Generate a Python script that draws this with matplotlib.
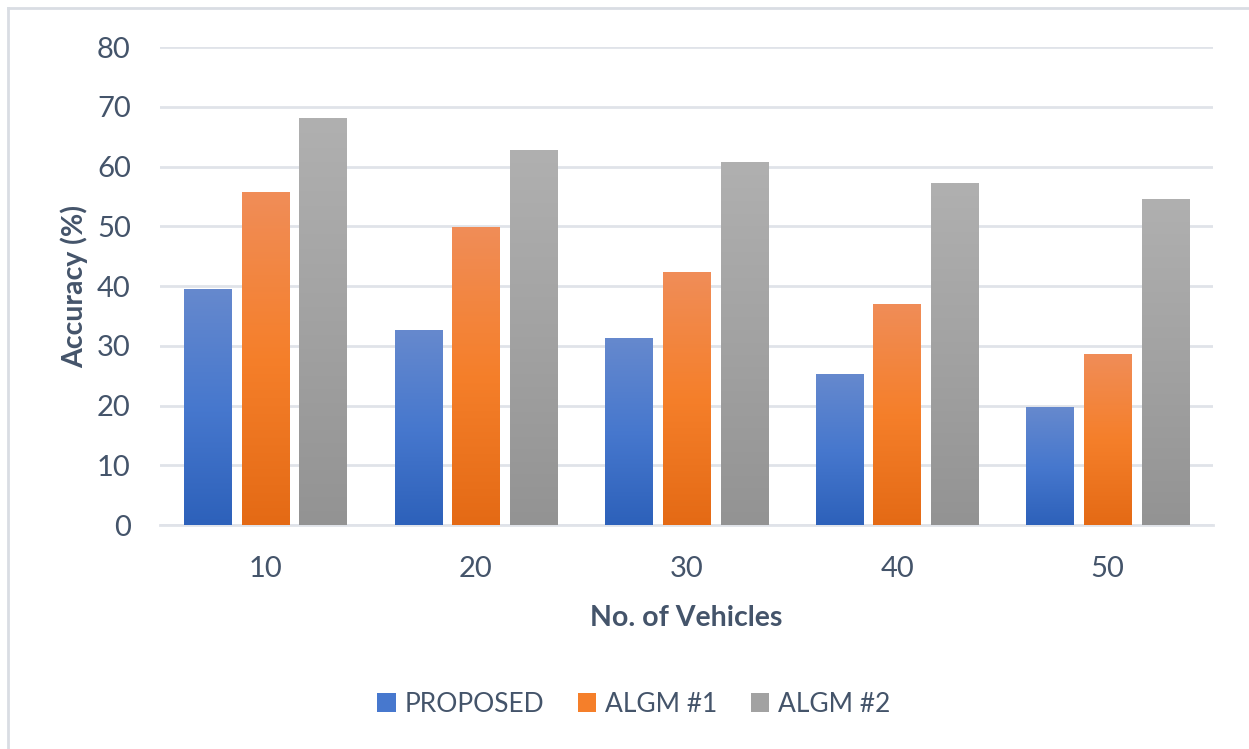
import numpy as np
import matplotlib.pyplot as plt
from matplotlib.colors import LinearSegmentedColormap
from matplotlib.lines import Line2D

plt.rcParams['font.family'] = ['Lato', 'DejaVu Sans']

vehicles = ['10', '20', '30', '40', '50']
proposed = [39.5, 32.6, 31.3, 25.3, 19.7]
algm1 = [55.7, 49.9, 42.3, 37.0, 28.6]
algm2 = [68.1, 62.8, 60.8, 57.2, 54.6]
series_names = ['PROPOSED', 'ALGM #1', 'ALGM #2']

# top -> middle -> bottom colours of each bar gradient
gradients = [
    ['#6689CD', '#4778CE', '#2D61BA'],
    ['#F08D58', '#F57F2A', '#E46A15'],
    ['#B0B0B0', '#A2A2A2', '#939393'],
]
text_color = '#44546A'
grid_color = '#E0E3E9'

fig = plt.figure(figsize=(12.49, 7.49), dpi=100)
ax = fig.add_axes([160 / 1249, 224 / 749, 1053 / 1249, 478 / 749])

x = np.arange(len(vehicles))
width = 0.225
offset = 0.274

for i, (vals, name, grad) in enumerate(zip([proposed, algm1, algm2], series_names, gradients)):
    cmap = LinearSegmentedColormap.from_list(name, grad[::-1])
    bars = ax.bar(x + (i - 1) * offset, vals, width, color=grad[1], label=name, zorder=2)
    for b in bars:
        x0, y0 = b.get_x(), b.get_y()
        w, h = b.get_width(), b.get_height()
        img = ax.imshow(np.linspace(0, 1, 256).reshape(-1, 1), cmap=cmap, origin='lower',
                        extent=[x0, x0 + w, y0, y0 + h], aspect='auto', zorder=3)
        img.set_clip_path(b)

ax.set_xlim(-0.5, len(vehicles) - 0.5)
ax.set_ylim(0, 80)
ax.set_yticks(range(0, 81, 10))
ax.set_xticks(x)
ax.set_xticklabels(vehicles)
ax.grid(axis='y', color=grid_color, linewidth=2, zorder=0)
ax.set_axisbelow(True)
for side in ['top', 'right', 'left']:
    ax.spines[side].set_visible(False)
ax.spines['bottom'].set_color(grid_color)
ax.spines['bottom'].set_linewidth(2)
ax.tick_params(axis='both', length=0, labelsize=21, labelcolor=text_color)
ax.tick_params(axis='y', pad=21)
ax.tick_params(axis='x', pad=22)

ax.set_xlabel('No. of Vehicles', fontsize=20.5, fontweight='bold', color=text_color, labelpad=17)
ax.set_ylabel('Accuracy (%)', fontsize=20.5, fontweight='bold', color=text_color, labelpad=6)

leg = fig.legend(loc='center', bbox_to_anchor=(634 / 1249, 1 - 704 / 749), ncol=3, frameon=False,
                 fontsize=19, handlelength=0.7, handleheight=0.7, handletextpad=0.35,
                 columnspacing=1.25)
for t in leg.get_texts():
    t.set_color(text_color)

# chart area border (left and top edges only)
fig.add_artist(Line2D([8 / 1249, 8 / 1249], [0, 1 - 8 / 749], color='#D9DDE3', linewidth=2))
fig.add_artist(Line2D([8 / 1249, 1], [1 - 8 / 749, 1 - 8 / 749], color='#D9DDE3', linewidth=2))

fig.savefig('out.png', dpi=100)
